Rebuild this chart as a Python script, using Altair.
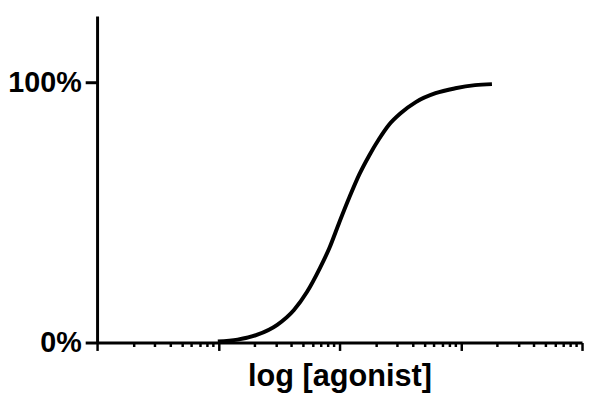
import math
import altair as alt
import pandas as pd

# log [agonist] (decades) and response (%)
log_agonist = [-9.004, -8.841, -8.678, -8.514, -8.376, -8.269, -8.163, -8.082,
               -8.000, -7.918, -7.837, -7.755, -7.673, -7.592, -7.494, -7.371,
               -7.208, -7.045, -6.882, -6.743]
response = [0.4, 1.1, 3.0, 6.8, 12.5, 19.4, 28.5, 36.5,
            46.4, 55.9, 64.6, 71.9, 78.3, 83.7, 88.2, 92.4,
            95.8, 97.7, 98.9, 99.3]

x_major = [-10, -9, -8, -7, -6]
x_minor = [d + math.log10(k) for d in x_major[:-1] for k in range(2, 10)]
y_ticks = [0, 100]
y_tick_labels = ["0%", "100%"]

df = pd.DataFrame({"x": log_agonist, "y": response})

label_expr = " : ".join(
    [f"datum.value == {v} ? '{t}'" for v, t in zip(y_ticks, y_tick_labels)]
) + " : ''"

FONT = "Liberation Sans"

chart = alt.Chart(df).mark_line(
    color="black", strokeWidth=4, interpolate="monotone"
).encode(
    x=alt.X("x:Q",
            scale=alt.Scale(domain=[-10, -6], nice=False, zero=False),
            axis=alt.Axis(values=sorted(x_major + x_minor), labels=False,
                          grid=False, domainColor="black", domainWidth=3,
                          tickColor="black", tickWidth=2.5,
                          tickSize={"condition": {"test": "abs(datum.value - round(datum.value)) < 1e-6", "value": 8}, "value": 4},
                          title="log [agonist]", titleFont=FONT,
                          titleFontSize=31, titleFontWeight="bold",
                          titleColor="black", titlePadding=10)),
    y=alt.Y("y:Q",
            scale=alt.Scale(domain=[0, 125.5], nice=False),
            axis=alt.Axis(values=y_ticks, labelExpr=label_expr, grid=False,
                          domainColor="black", domainWidth=3,
                          tickColor="black", tickWidth=3, tickSize=12,
                          labelFont=FONT, labelFontSize=29,
                          labelFontWeight="bold", labelColor="black",
                          labelPadding=4, title=None)),
).properties(
    width=490, height=330,
    autosize=alt.AutoSizeParams(type="none"),
    padding={"left": 90, "top": 6, "right": 2, "bottom": 50},
).configure_view(strokeWidth=0)

chart.save("out.html", embed_options={"renderer": "svg", "actions": False})
